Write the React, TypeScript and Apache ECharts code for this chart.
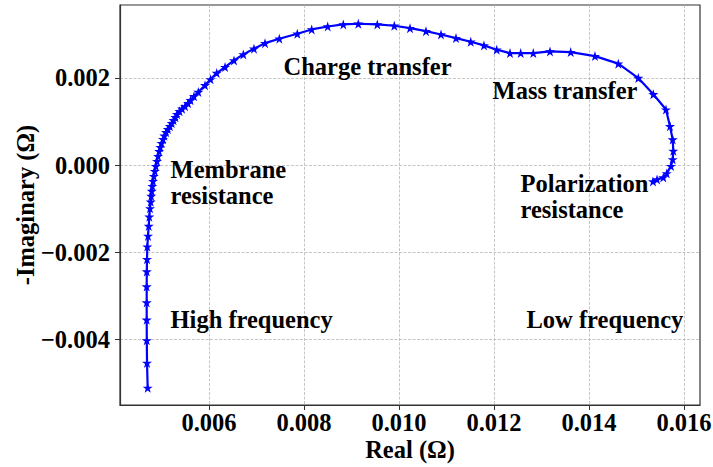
import React, { useEffect, useRef } from "react";
import * as echarts from "echarts";

// Nyquist plot data: Real (Ω) and -Imaginary (Ω)
const realOhm = [
  0.004709, 0.004695, 0.00469, 0.004688, 0.004688, 0.004688, 0.00469, 0.004695,
  0.004701, 0.004716, 0.004731, 0.004743, 0.004758, 0.004773, 0.004783, 0.004794,
  0.004806, 0.004821, 0.004838, 0.004859, 0.00488, 0.004905, 0.004926, 0.004949,
  0.004973, 0.005, 0.005032, 0.005059, 0.005095, 0.005133, 0.005175, 0.005215,
  0.005253, 0.005291, 0.005326, 0.005379, 0.005432, 0.005495, 0.005558, 0.005611,
  0.005684, 0.005775, 0.005916, 0.006032, 0.006162, 0.006337, 0.006526, 0.006722,
  0.006947, 0.007179, 0.00748, 0.007859, 0.008162, 0.008499, 0.008827, 0.009143,
  0.009543, 0.009901, 0.010232, 0.010568, 0.010884, 0.0112, 0.01151, 0.011789,
  0.012057, 0.012337, 0.012562, 0.012827, 0.013179, 0.013615, 0.014126, 0.014617,
  0.015038, 0.015354, 0.015621, 0.015705, 0.015762, 0.015775, 0.015762, 0.015726,
  0.015636, 0.015564, 0.015432, 0.015347,
];
const negImagOhm = [
  -0.005104, -0.004533, -0.004016, -0.003543, -0.003147, -0.002782, -0.002439, -0.002155,
  -0.001867, -0.001623, -0.001394, -0.001182, -0.00099, -0.000839, -0.000709, -0.000594,
  -0.00048, -0.000366, -0.000251, -0.000137, -0.000023, 0.000091, 0.000206, 0.00032,
  0.000411, 0.000503, 0.000594, 0.000674, 0.000754, 0.000823, 0.000891, 0.00096,
  0.001029, 0.001097, 0.001166, 0.001234, 0.001291, 0.001349, 0.001417, 0.001486,
  0.001577, 0.001675, 0.001829, 0.001966, 0.00211, 0.002247, 0.0024, 0.002537,
  0.002667, 0.002795, 0.002896, 0.00301, 0.003109, 0.003177, 0.003223, 0.003239,
  0.003223, 0.003193, 0.003138, 0.00307, 0.002994, 0.00291, 0.002827, 0.002743,
  0.002645, 0.002567, 0.002567, 0.002567, 0.002606, 0.00259, 0.002498, 0.002325,
  0.001995, 0.001623, 0.001273, 0.000891, 0.000587, 0.000327, 0.00013, -0.000023,
  -0.00019, -0.000281, -0.000327, -0.000373,
];

const xTicks = [0.006, 0.008, 0.01, 0.012, 0.014, 0.016];
const yTicks = [-0.004, -0.002, 0.0, 0.002];
const xRange = [0.004126, 0.016337];
const yRange = [-0.005497, 0.003669];

const annotationTexts = [
  "Charge transfer",
  "Mass transfer",
  "Membrane\nresistance",
  "Polarization\nresistance",
  "High frequency",
  "Low frequency",
];
const annotationX = [0.007579, 0.011979, 0.0052, 0.012568, 0.0052, 0.012695];
const annotationY = [0.00224, 0.00169, -0.000411, -0.00072, -0.00355, -0.00355];

const FONT = "'Liberation Serif', 'Times New Roman', serif";
const FS = 24.5;
const STAR =
  "path://M0,-10L2.245,-3.09L9.511,-3.09L3.633,1.18L5.878,8.09L0,3.82L-5.878,8.09L-3.633,1.18L-9.511,-3.09L-2.245,-3.09Z";

const fmt = (v: number) => {
  const s = Math.abs(v) < 1e-12 ? "0.000" : v.toFixed(3);
  return s.replace("-", "\u2212");
};

export default function App() {
  const ref = useRef<HTMLDivElement>(null);

  useEffect(() => {
    if (!ref.current) return;
    const chart = echarts.init(ref.current, null, { renderer: "svg" });

    const lineData = realOhm.map((x, i) => [x, negImagOhm[i]]);
    const annData = annotationTexts.map((t, i) => ({
      value: [annotationX[i], annotationY[i]],
      name: t,
    }));

    const axisCommon = {
      type: "value" as const,
      axisLine: { show: true, onZero: false, lineStyle: { color: "#333", width: 1.2 } },
      axisTick: { show: true, inside: false, length: 5, lineStyle: { color: "#333", width: 1 } },
      splitLine: {
        show: true,
        lineStyle: { color: "#b8b8b8", width: 0.8, type: [3, 1.5] },
      },
      axisLabel: {
        show: true,
        fontFamily: FONT,
        fontWeight: "bold" as const,
        fontSize: FS,
        color: "#000",
        formatter: fmt,
      },
      nameLocation: "middle" as const,
      nameMoveOverlap: false,
      nameTextStyle: { fontFamily: FONT, fontWeight: "bold" as const, fontSize: FS, color: "#000" },
    };

    chart.setOption({
      animation: false,
      backgroundColor: "#fff",
      grid: {
        left: 120,
        right: 13,
        top: 5,
        bottom: 62,
        show: true,
        borderColor: "#333",
        borderWidth: 1.2,
        containLabel: false,
        outerBoundsMode: "none",
      },
      xAxis: {
        ...axisCommon,
        min: xRange[0],
        max: xRange[1],
        splitNumber: 6,
        name: "Real (\u03A9)",
        nameGap: 32,
        axisTick: { ...axisCommon.axisTick, customValues: xTicks },
        axisLabel: { ...axisCommon.axisLabel, customValues: xTicks, margin: 5 },
      },
      yAxis: {
        ...axisCommon,
        min: yRange[0],
        max: yRange[1],
        splitNumber: 5,
        name: "-Imaginary (\u03A9)",
        nameGap: 82,
        axisTick: { ...axisCommon.axisTick, customValues: yTicks },
        axisLabel: { ...axisCommon.axisLabel, customValues: yTicks, margin: 10 },
      },
      series: [
        {
          type: "line",
          data: lineData,
          symbol: STAR,
          symbolSize: 10,
          showSymbol: true,
          showAllSymbol: true,
          clip: false,
          lineStyle: { color: "#0000ff", width: 2.2 },
          itemStyle: { color: "#0000ff" },
          z: 3,
        },
        {
          type: "scatter",
          data: annData,
          symbolSize: 1,
          itemStyle: { color: "rgba(0,0,0,0)", opacity: 1 },
          silent: true,
          z: 4,
          label: {
            show: true,
            position: [0, 0],
            align: "left",
            verticalAlign: "middle",
            formatter: (p: any) => p.name,
            fontFamily: FONT,
            fontWeight: "bold",
            fontSize: FS,
            lineHeight: 26,
            color: "#000",
            opacity: 1,
            textBorderWidth: 0,
          },
        },
      ],
    });

    return () => chart.dispose();
  }, []);

  return (
    <div
      ref={ref}
      style={{ position: "absolute", left: 0, top: 0, width: 713, height: 467 }}
    />
  );
}
